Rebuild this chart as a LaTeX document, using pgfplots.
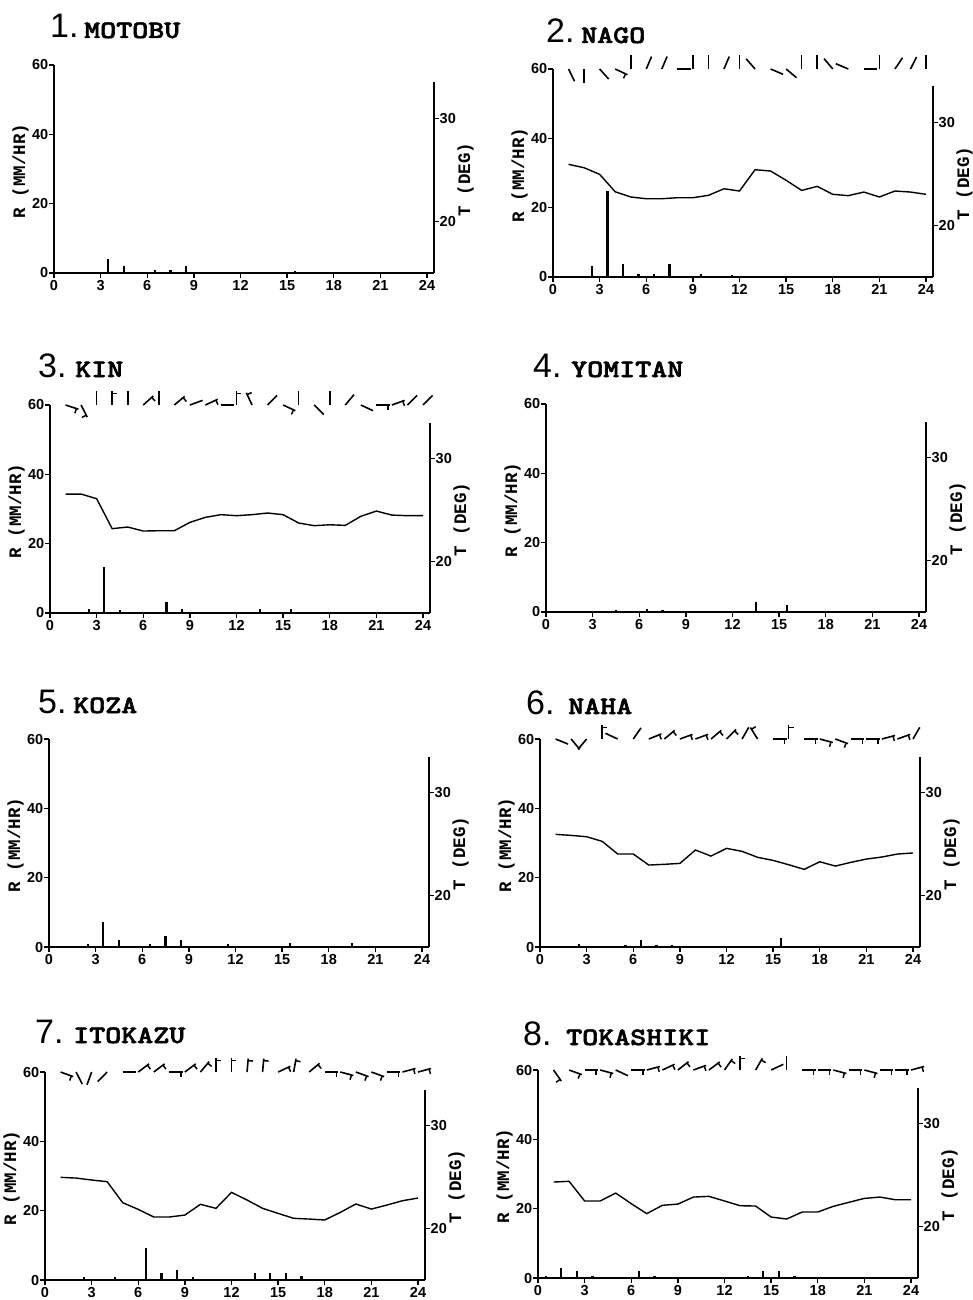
\documentclass[border=0pt]{standalone}
\usepackage{fontspec}
\usepackage{graphicx}
\usepackage{pgfplots}
\pgfplotsset{compat=1.18}
\usepackage{pgfplotstable}
\newfontfamily\ticksf{Liberation Sans}
\newfontfamily\labmono{Liberation Mono}
\newfontfamily\namefont{lmmonolt10-bold}[Extension=.otf, FakeBold=2]

% rain (mm/hr) at mid-hour
\pgfplotstableread{
x r
3.5 4.1
4.5 2.1
6.5 0.9
7.5 1.0
8.5 2.1
15.5 0.7
}\rainA
\pgfplotstableread{
x r
2.5 3.1
3.5 24.7
4.5 3.8
5.5 1.0
6.5 0.8
7.5 3.8
9.5 0.8
11.5 0.7
}\rainB
\pgfplotstableread{
x r
2.5 1.1
3.5 13.4
4.5 1.0
7.5 3.3
8.5 1.1
13.5 1.1
15.5 1.2
}\rainC
\pgfplotstableread{
x r
4.5 0.7
6.5 0.8
7.5 0.7
13.5 2.9
15.5 1.9
}\rainD
\pgfplotstableread{
x r
2.5 0.8
3.5 7.1
4.5 2.1
6.5 1.0
7.5 3.1
8.5 2.1
11.5 1.0
15.5 1.2
19.5 1.2
}\rainE
\pgfplotstableread{
x r
2.5 1.0
5.5 0.7
6.5 2.1
7.5 0.5
8.5 0.5
11.5 0.3
12.5 0.3
14.5 0.3
15.5 2.6
17.5 0.3
}\rainF
\pgfplotstableread{
x r
2.5 0.8
4.5 0.8
6.5 9.3
7.5 2.1
8.5 3.0
9.5 1.0
13.5 1.9
14.5 1.9
15.5 2.1
16.5 1.1
}\rainG
\pgfplotstableread{
x r
0.5 0.7
1.5 2.9
2.5 1.9
3.5 0.7
6.5 1.9
7.5 0.7
13.5 0.5
14.5 1.9
15.5 1.9
16.5 0.7
}\rainH

% temperature (deg)
\pgfplotstableread{
h t
1 25.94
2 25.61
3 24.97
4 23.28
5 22.77
6 22.6
7 22.6
8 22.7
9 22.7
10 22.93
11 23.57
12 23.35
13 25.42
14 25.29
15 24.39
16 23.41
17 23.8
18 23.03
19 22.9
20 23.25
21 22.77
22 23.35
23 23.25
24 23.03
}\tempB
\pgfplotstableread{
h t
1 26.55
2 26.55
3 26.1
4 23.19
5 23.35
6 22.96
7 22.99
8 22.99
9 23.8
10 24.29
11 24.55
12 24.45
13 24.55
14 24.71
15 24.55
16 23.74
17 23.48
18 23.57
19 23.51
20 24.39
21 24.9
22 24.51
23 24.45
24 24.45
}\tempC
\pgfplotstableread{
h t
1 25.94
2 25.84
3 25.71
4 25.26
5 24.03
6 24.03
7 22.96
8 23.03
9 23.12
10 24.42
11 23.83
12 24.58
13 24.29
14 23.71
15 23.41
16 22.99
17 22.54
18 23.28
19 22.86
20 23.22
21 23.54
22 23.74
23 24.03
24 24.13
}\tempF
\pgfplotstableread{
h t
1 24.97
2 24.9
3 24.71
4 24.55
5 22.51
6 21.86
7 21.12
8 21.12
9 21.31
10 22.35
11 21.96
12 23.51
13 22.77
14 21.96
15 21.47
16 20.99
17 20.92
18 20.83
19 21.57
20 22.38
21 21.89
22 22.28
23 22.7
24 22.96
}\tempG
\pgfplotstableread{
h t
1 24.32
2 24.39
3 22.48
4 22.48
5 23.25
6 22.22
7 21.25
8 22.06
9 22.18
10 22.86
11 22.93
12 22.48
13 22.02
14 21.99
15 20.92
16 20.73
17 21.41
18 21.41
19 21.96
20 22.35
21 22.73
22 22.86
23 22.6
24 22.6
}\tempH

% wind: hour, staff angle on the page (deg), feather yes/no
\pgfplotstableread{
h a f
1 -64 0
2 -90 0
3 -48 0
4 -25 1
5 90 0
6 67 0
7 67 0
8 0 0
9 90 0
10 90 0
11 67 0
12 90 0
13 131 0
14 -23 0
15 -40 0
16 90 0
17 90 0
18 130 0
19 157 0
20 0 0
21 90 0
22 56 0
23 63 0
24 90 0
}\windB
\pgfplotstableread{
h a f
1 -18 1
2 -63 1
3 90 0
4 90 1
5 90 0
6 42 1
7 90 0
8 40 1
9 20 0
10 25 1
11 0 0
12 90 1
13 115 1
14 45 0
15 -25 1
16 90 0
17 -45 0
18 90 0
19 50 0
20 -25 0
21 0 1
22 20 1
23 45 0
24 45 0
}\windC
\pgfplotstableread{
h a f
1 -22 0
2 -50 0
3 -130 0
4 90 1
5 155 0
6 55 0
7 22 1
8 40 1
9 20 1
10 20 1
11 40 1
12 45 1
13 60 0
14 122 1
15 0 1
16 90 1
17 0 1
18 -15 1
19 -20 1
20 0 1
21 0 1
22 15 1
23 20 1
24 60 0
}\windF
\pgfplotstableread{
h a f
1 -20 1
2 -63 0
3 -110 0
4 -135 0
5 0 0
6 37 1
7 37 1
8 0 1
9 37 1
10 50 1
11 90 1
12 90 1
13 85 1
14 85 1
15 25 1
16 80 1
17 40 1
18 0 1
19 -15 1
20 -20 1
21 -20 1
22 0 1
23 15 1
24 15 1
}\windG
\pgfplotstableread{
h a f
1 -55 1
2 -20 1
3 0 1
4 -15 1
5 -25 0
6 0 1
7 15 1
8 25 1
9 38 1
10 20 1
11 37 1
12 55 1
13 90 1
14 60 1
15 25 0
16 90 0
17 0 1
18 0 1
19 -15 1
20 0 1
21 -15 1
22 0 1
23 0 1
24 15 1
}\windH

\pgfplotsset{
  raxis/.style={
    scale only axis, width=380pt, height=208pt,
    xmin=0, xmax=24.45, ymin=0, ymax=60,
    axis x line*=bottom, axis y line*=left,
    axis line style={line width=1.7pt,-},
    xtick={0,3,...,24}, ytick={0,20,40,60},
    tick align=outside, major tick length=5pt,
    tick style={line width=1.4pt,black},
    ticklabel style={font=\ticksf\bfseries\fontsize{14.5}{14.5}\selectfont},
    yticklabel style={inner sep=0.5pt},
    xticklabel style={inner sep=2pt},
    /pgf/number format/assume math mode=true,
    ylabel={R (MM/HR)},
    ylabel style={font=\labmono\bfseries\fontsize{17.5}{17.5}\selectfont,
      at={(axis description cs:-0.088,0.49)}, anchor=center},
    clip=false, anchor=south west},
  taxis/.style={
    scale only axis, width=380pt, height=190.5pt,
    xmin=0, xmax=24.45, ymin=15, ymax=33.5,
    hide x axis, axis y line*=right,
    axis line style={line width=1.9pt,-},
    ytick={20,30}, tick align=outside, major tick length=5pt,
    tick style={line width=1.4pt,black},
    ticklabel style={font=\ticksf\bfseries\fontsize{14.5}{14.5}\selectfont},
    yticklabel style={inner sep=0.5pt},
    /pgf/number format/assume math mode=true,
    ylabel={T (DEG)},
    ylabel style={font=\labmono\bfseries\fontsize{17.5}{17.5}\selectfont,
      at={(axis description cs:1.083,0.49)}, anchor=center},
    clip=false, anchor=south west},
  rain/.style={ycomb, line width=2.2pt, black},
  temp/.style={line width=1.4pt, black},
  staff/.style={line width=1.6pt, black,
    quiver={u={0.87*cos(\thisrow{a})}, v={3.9*sin(\thisrow{a})}}},
  feather/.style={line width=1.5pt, black,
    quiver={u={0.32*cos(\thisrow{a}-90)}, v={1.44*sin(\thisrow{a}-90)}},
    restrict expr to domain={\thisrow{f}}{0.5:1.5}},
}
\newcommand\wind[1]{%
  \addplot[staff] table[x=h, y expr=60] {#1};
  \addplot[feather] table[x expr={\thisrow{h}+0.74*cos(\thisrow{a})},
    y expr={60+3.3*sin(\thisrow{a})}] {#1};}
\newcommand\ttl[5]{%
  \node[anchor=base west, inner sep=0] at (#1pt,-#3pt)
    {\ticksf\fontsize{34}{34}\selectfont #4.};
  \node[anchor=base west, inner sep=0] at (#2pt,-#3pt)
    {\scalebox{1.22}[1]{\namefont\fontsize{25}{25}\selectfont #5}};}

\begin{document}
\begin{tikzpicture}
\useasboundingbox (0pt,0pt) rectangle (972pt,-1300pt);

\ttl{50}{84}{38}{1}{MOTOBU}
\ttl{546}{581}{43}{2}{NAGO}
\ttl{38}{75}{377}{3}{KIN}
\ttl{533}{571}{377}{4}{YOMITAN}
\ttl{38}{73}{713}{5}{KOZA}
\ttl{526}{568}{714}{6}{NAHA}
\ttl{35}{73}{1043}{7}{ITOKAZU}
\ttl{523}{566}{1045}{8}{TOKASHIKI}

% 1. MOTOBU
\begin{axis}[raxis, at={(54pt,-273pt)}]
\addplot[rain] table[x=x,y=r] {\rainA};
\end{axis}
\begin{axis}[taxis, at={(54pt,-273pt)}]
\end{axis}

% 2. NAGO
\begin{axis}[raxis, at={(553pt,-277pt)}]
\addplot[rain] table[x=x,y=r] {\rainB};
\wind{\windB}
\end{axis}
\begin{axis}[taxis, at={(553pt,-277pt)}]
\addplot[temp] table[x=h,y=t] {\tempB};
\end{axis}

% 3. KIN
\begin{axis}[raxis, at={(50pt,-613pt)}]
\addplot[rain] table[x=x,y=r] {\rainC};
\wind{\windC}
\end{axis}
\begin{axis}[taxis, at={(50pt,-613pt)}]
\addplot[temp] table[x=h,y=t] {\tempC};
\end{axis}

% 4. YOMITAN
\begin{axis}[raxis, at={(546pt,-612pt)}]
\addplot[rain] table[x=x,y=r] {\rainD};
\end{axis}
\begin{axis}[taxis, at={(546pt,-612pt)}]
\end{axis}

% 5. KOZA
\begin{axis}[raxis, at={(49pt,-947pt)}]
\addplot[rain] table[x=x,y=r] {\rainE};
\end{axis}
\begin{axis}[taxis, at={(49pt,-947pt)}]
\end{axis}

% 6. NAHA
\begin{axis}[raxis, at={(540pt,-947pt)}]
\addplot[rain] table[x=x,y=r] {\rainF};
\wind{\windF}
\end{axis}
\begin{axis}[taxis, at={(540pt,-947pt)}]
\addplot[temp] table[x=h,y=t] {\tempF};
\end{axis}

% 7. ITOKAZU
\begin{axis}[raxis, at={(45pt,-1280pt)}]
\addplot[rain] table[x=x,y=r] {\rainG};
\wind{\windG}
\end{axis}
\begin{axis}[taxis, at={(45pt,-1280pt)}]
\addplot[temp] table[x=h,y=t] {\tempG};
\end{axis}

% 8. TOKASHIKI
\begin{axis}[raxis, at={(538pt,-1278pt)}]
\addplot[rain] table[x=x,y=r] {\rainH};
\wind{\windH}
\end{axis}
\begin{axis}[taxis, at={(538pt,-1278pt)}]
\addplot[temp] table[x=h,y=t] {\tempH};
\end{axis}
\end{tikzpicture}
\end{document}
